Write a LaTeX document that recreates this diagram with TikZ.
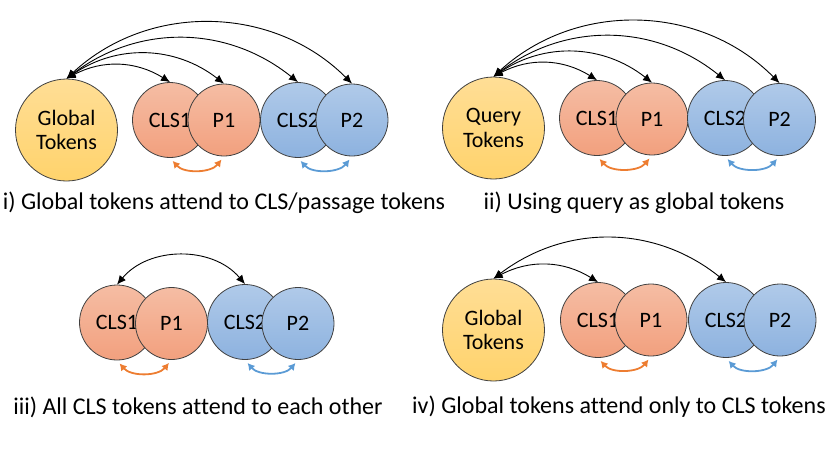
\documentclass[tikz,border=0pt]{standalone}
\usepackage{fontspec}
\setmainfont{Carlito}[Ligatures=NoCommon]
\usetikzlibrary{arrows.meta}

\definecolor{orgTop}{HTML}{F5BDA4}
\definecolor{orgBot}{HTML}{F2A07E}
\definecolor{bluTop}{HTML}{B0CAE9}
\definecolor{bluBot}{HTML}{8DB2DF}
\definecolor{yelTop}{HTML}{FFDE96}
\definecolor{yelBot}{HTML}{FFD36C}
\definecolor{orgLine}{HTML}{ED7D31}
\definecolor{bluLine}{HTML}{5B9BD5}
\definecolor{rim}{HTML}{404040}

\tikzset{
  tok/.style={circle, draw=rim, line width=0.8pt, inner sep=0pt,
              font=\fontsize{22}{24.5}\selectfont},
  glob/.style={tok, minimum size=102pt, top color=yelTop, bottom color=yelBot, align=center},
  clsO/.style={tok, minimum size=75pt, top color=orgTop, bottom color=orgBot},
  psgO/.style={tok, minimum size=72pt, top color=orgTop, bottom color=orgBot},
  clsB/.style={tok, minimum size=75pt, top color=bluTop, bottom color=bluBot},
  psgB/.style={tok, minimum size=72pt, top color=bluTop, bottom color=bluBot},
  att/.style={<->, >={Latex[length=9pt,width=8pt]}, line width=0.9pt, black},
  loopO/.style={<->, >={Latex[length=7pt,width=8pt]}, line width=1.8pt, orgLine,
                shorten <=4pt, shorten >=4pt},
  loopB/.style={<->, >={Latex[length=7pt,width=8pt]}, line width=1.8pt, bluLine,
                shorten <=4pt, shorten >=4pt},
  captxt/.style={font=\fontsize{24}{28}\selectfont}
}

\begin{document}
\begin{tikzpicture}[x=1pt, y=-1pt]

\useasboundingbox (0,0) rectangle (830,467);

% ═══════════════════════════════════════════════════════
% i) GLOBAL -> CLS / PASSAGE
% ═══════════════════════════════════════════════════════

\node[glob] (gA) at (66.5,130) {Global\\Tokens};
\node[clsO] (cA1) at (170,120) {CLS1};
\node[psgO] (pA1) at (224,120) {P1};
\node[clsB] (cA2) at (298,120) {CLS2};
\node[psgB] (pA2) at (352,120) {P2};

\draw[att] (gA.north) to[bend left=30] (cA1.north);
\draw[att] (gA.north) to[bend left=36] (pA1.north);
\draw[att] (gA.north) to[bend left=38] (cA2.north);
\draw[att] (gA.north) to[bend left=44] (pA2.north);

\draw[loopO] (cA1.south) to[bend right=50] (pA1.south);
\draw[loopB] (cA2.south) to[bend right=50] (pA2.south);

\node[captxt] (tA) at (224,203) {i) Global tokens attend to CLS/passage tokens};

% ═══════════════════════════════════════════════════════
% ii) QUERY AS GLOBAL
% ═══════════════════════════════════════════════════════

\node[glob] (gB) at (493.5,128) {Query\\Tokens};
\node[clsO] (cB1) at (597,118) {CLS1};
\node[psgO] (pB1) at (652,119) {P1};
\node[clsB] (cB2) at (725,118) {CLS2};
\node[psgB] (pB2) at (779.5,119.5) {P2};

\draw[att] (gB.north) to[bend left=30] (cB1.north);
\draw[att] (gB.north) to[bend left=36] (pB1.north);
\draw[att] (gB.north) to[bend left=38] (cB2.north);
\draw[att] (gB.north) to[bend left=44] (pB2.north);

\draw[loopO] (cB1.south) to[bend right=50] (pB1.south);
\draw[loopB] (cB2.south) to[bend right=50] (pB2.south);

\node[captxt] (tB) at (634,203) {ii) Using query as global tokens};

% ═══════════════════════════════════════════════════════
% iii) CLS <-> CLS
% ═══════════════════════════════════════════════════════

\node[clsO] (cC1) at (117,322.5) {CLS1};
\node[psgO] (pC1) at (171.5,323.5) {P1};
\node[clsB] (cC2) at (245,322) {CLS2};
\node[psgB] (pC2) at (298,323.5) {P2};

\draw[att] (cC1.north) to[bend left=50] (cC2.north);

\draw[loopO] (cC1.south) to[bend right=50] (pC1.south);
\draw[loopB] (cC2.south) to[bend right=50] (pC2.south);

\node[captxt] (tC) at (198,407) {iii) All CLS tokens attend to each other};

% ═══════════════════════════════════════════════════════
% iv) GLOBAL -> CLS ONLY
% ═══════════════════════════════════════════════════════

\node[glob] (gD) at (493.5,330) {Global\\Tokens};
\node[clsO] (cD1) at (598,320) {CLS1};
\node[psgO] (pD1) at (651,320) {P1};
\node[clsB] (cD2) at (726,320) {CLS2};
\node[psgB] (pD2) at (780,320) {P2};

\draw[att] (gD.north) to[bend left=30] (cD1.north);
\draw[att] (gD.north) to[bend left=38] (cD2.north);

\draw[loopO] (cD1.south) to[bend right=50] (pD1.south);
\draw[loopB] (cD2.south) to[bend right=50] (pD2.south);

\node[captxt] (tD) at (619,407) {iv) Global tokens attend only to CLS tokens};

\end{tikzpicture}
\end{document}
